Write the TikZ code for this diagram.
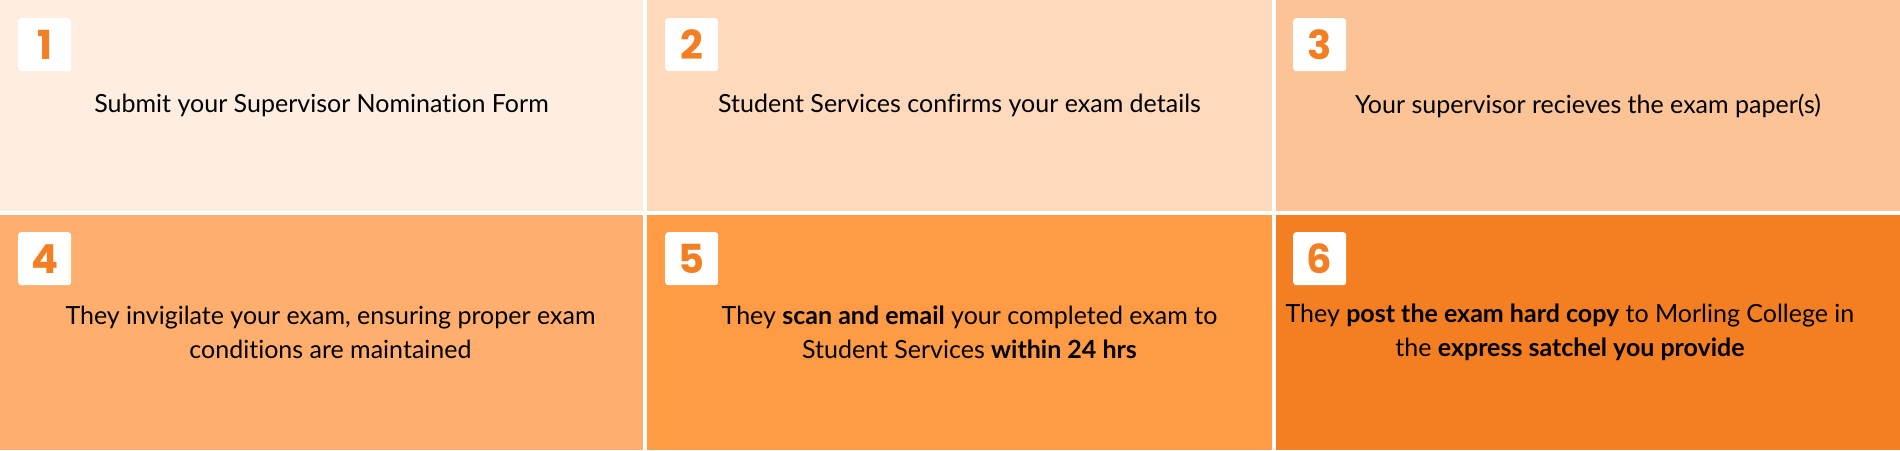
\documentclass[tikz,border=0pt]{standalone}
\usepackage{fontspec}
\setmainfont{Lato}[Ligatures=NoCommon]
\newfontfamily\numfont{Poppins}
\usetikzlibrary{positioning}
\definecolor{stepA}{HTML}{FDEEE1}
\definecolor{stepB}{HTML}{FED9BC}
\definecolor{stepC}{HTML}{FCC396}
\definecolor{stepD}{HTML}{FFAE6D}
\definecolor{stepE}{HTML}{FF9A45}
\definecolor{stepF}{HTML}{F47E22}
\definecolor{numorange}{HTML}{F47E22}
\tikzset{
  cellbox/.style={inner sep=0pt, outer sep=0pt, anchor=north west},
  badge/.style={fill=white, rounded corners=3pt, minimum width=53pt, minimum height=53pt,
    inner sep=0pt, anchor=north west, text=numorange, font=\numfont\bfseries\fontsize{40}{40}\selectfont},
  steptext/.style={align=center, inner sep=0pt, font=\fontsize{25}{34}\selectfont}
}
\begin{document}
\begin{tikzpicture}[x=1pt, y=1pt]
    \useasboundingbox (0,0) rectangle (1900,450);
    \fill[white] (0,0) rectangle (1900,450);
    % draw the cells
    \node[cellbox, fill=stepA, minimum width=643pt, minimum height=211pt] (cell1) at (0,450) {};
    \node[cellbox, fill=stepB, minimum width=625pt, minimum height=211pt] (cell2) at (647,450) {};
    \node[cellbox, fill=stepC, minimum width=624pt, minimum height=211pt] (cell3) at (1276,450) {};
    \node[cellbox, fill=stepD, minimum width=643pt, minimum height=235pt] (cell4) at (0,235) {};
    \node[cellbox, fill=stepE, minimum width=625pt, minimum height=235pt] (cell5) at (647,235) {};
    \node[cellbox, fill=stepF, minimum width=624pt, minimum height=235pt] (cell6) at (1276,235) {};
    % the numbers
    \node[badge] (num1) at ([xshift=18pt, yshift=-18pt]cell1.north west) {1};
    \node[badge] (num2) at ([xshift=18pt, yshift=-18pt]cell2.north west) {2};
    \node[badge] (num3) at ([xshift=17pt, yshift=-18pt]cell3.north west) {3};
    \node[badge] (num4) at ([xshift=18pt, yshift=-17pt]cell4.north west) {4};
    \node[badge] (num5) at ([xshift=18pt, yshift=-17pt]cell5.north west) {5};
    \node[badge] (num6) at ([xshift=17pt, yshift=-17pt]cell6.north west) {6};
    % the texts
    \node[steptext] (text1) at (cell1.center) {Submit your Supervisor Nomination Form};
    \node[steptext] (text2) at (cell2.center) {Student Services confirms your exam details};
    \node[steptext] (text3) at (cell3.center) {Your supervisor recieves the exam paper(s)};
    \node[steptext] (text4) at ([xshift=9pt]cell4.center) {They invigilate your exam, ensuring proper exam\\conditions are maintained};
    \node[steptext] (text5) at ([xshift=10pt]cell5.center) {They \textbf{scan and email} your completed exam to\\Student Services \textbf{within 24 hrs}};
    \node[steptext] (text6) at ([xshift=-18pt]cell6.center) {They \textbf{post the exam hard copy} to Morling College in\\the \textbf{express satchel you provide}};
\end{tikzpicture}
\end{document}
